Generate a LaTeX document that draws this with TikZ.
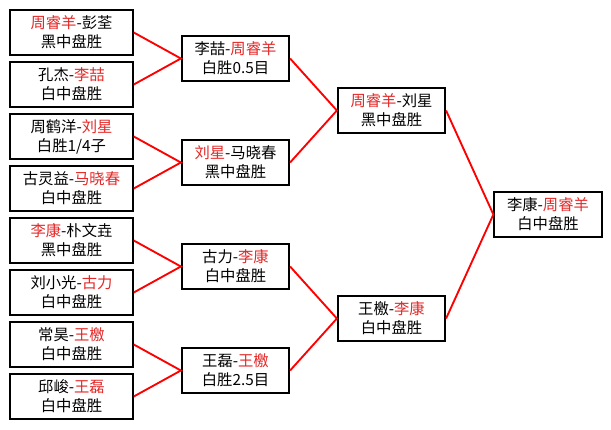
\documentclass[tikz,border=0pt]{standalone}
\usepackage{fontspec}
\setmainfont{Noto Sans CJK SC}
\usetikzlibrary{positioning, calc}
\definecolor{winred}{RGB}{228,40,40}
\newcommand{\winner}[1]{\textcolor{winred}{#1}}

\begin{document}
\begin{tikzpicture}[
    x=0.75pt, y=-0.75pt,
    node distance=3.85pt,
    match/.style={rectangle, draw=black, line width=1.4pt, fill=white, minimum width=92pt, minimum height=33.75pt, align=center, inner sep=1pt, font=\fontsize{11.5}{14.25}\selectfont},
    later/.style={match, minimum width=80.5pt, minimum height=34.25pt},
    link/.style={draw=red, line width=1.4pt}
]
\useasboundingbox (0,0) rectangle (611,429);

% first round
\node[match] (m1) at (71.5,32.5) {\winner{周睿羊}-彭荃 \\ 黑中盘胜};
\node[match, below=of m1] (m2) {孔杰-\winner{李喆} \\ 白中盘胜};
\node[match, below=of m2] (m3) {周鹤洋-\winner{刘星} \\ 白胜1/4子};
\node[match, below=of m3] (m4) {古灵益-\winner{马晓春} \\ 白中盘胜};
\node[match, below=of m4] (m5) {\winner{李康}-朴文垚 \\ 黑中盘胜};
\node[match, below=of m5] (m6) {刘小光-\winner{古力} \\ 白中盘胜};
\node[match, below=of m6] (m7) {常昊-\winner{王檄} \\ 白中盘胜};
\node[match, below=of m7] (m8) {邱峻-\winner{王磊} \\ 白中盘胜};

% second round
\node[later] (q1) at ($(m1)!0.5!(m2)+(164,0)$) {李喆-\winner{周睿羊} \\ 白胜0.5目};
\node[later] (q2) at ($(m3)!0.5!(m4)+(164,0)$) {\winner{刘星}-马晓春 \\ 黑中盘胜};
\node[later] (q3) at ($(m5)!0.5!(m6)+(164,0)$) {古力-\winner{李康} \\ 白中盘胜};
\node[later] (q4) at ($(m7)!0.5!(m8)+(164,0)$) {王磊-\winner{王檄} \\ 白胜2.5目};

% semi final
\node[later] (s1) at ($(q1)!0.5!(q2)+(156,0)$) {\winner{周睿羊}-刘星 \\ 黑中盘胜};
\node[later] (s2) at ($(q3)!0.5!(q4)+(156,0)$) {王檄-\winner{李康} \\ 白中盘胜};

% final
\node[later] (fin) at ($(s1)!0.5!(s2)+(156.5,0)$) {李康-\winner{周睿羊} \\ 白中盘胜};

\draw[link] (m1.east) -- (q1.west) -- (m2.east);
\draw[link] (m3.east) -- (q2.west) -- (m4.east);
\draw[link] (m5.east) -- (q3.west) -- (m6.east);
\draw[link] (m7.east) -- (q4.west) -- (m8.east);
\draw[link] (q1.east) -- (s1.west) -- (q2.east);
\draw[link] (q3.east) -- (s2.west) -- (q4.east);
\draw[link] (s1.east) -- (fin.west) -- (s2.east);

\end{tikzpicture}
\end{document}
